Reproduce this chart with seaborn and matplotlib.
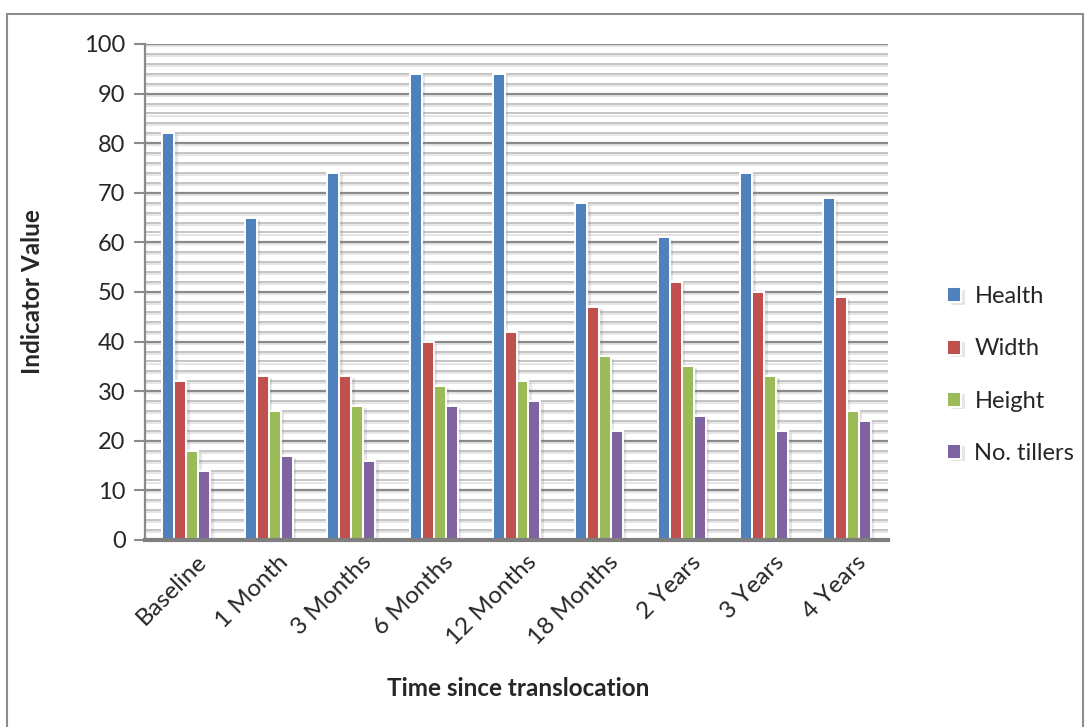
import matplotlib
matplotlib.use("Agg")
import matplotlib.pyplot as plt
import matplotlib.patheffects as pe
from matplotlib.patches import Rectangle
from matplotlib.ticker import MultipleLocator
from matplotlib.transforms import ScaledTranslation
import numpy as np
import pandas as pd
import seaborn as sns

# Survey timepoints and indicator values
timepoints = ["Baseline", "1 Month", "3 Months", "6 Months", "12 Months",
              "18 Months", "2 Years", "3 Years", "4 Years"]
health = [82, 65, 74, 94, 94, 68, 61, 74, 69]
width = [32, 33, 33, 40, 42, 47, 52, 50, 49]
height = [18, 26, 27, 31, 32, 37, 35, 33, 26]
tillers = [14, 17, 16, 27, 28, 22, 25, 22, 24]
series_names = ["Health", "Width", "Height", "No. tillers"]
series_colors = ["#4F81BD", "#C0504D", "#9BBB59", "#8064A2"]

frames = []
for name, vals in zip(series_names, [health, width, height, tillers]):
    frames.append(pd.DataFrame({"Time": timepoints, "Indicator": name, "Value": vals}))
df = pd.concat(frames, ignore_index=True)

sns.set_theme(style="white")
plt.rcParams["font.family"] = ["Lato", "DejaVu Sans"]

fig = plt.figure(figsize=(10.85, 7.27), dpi=100)
ax = fig.add_axes([145 / 1085, 1 - 540 / 727, (888 - 145) / 1085, (540 - 44) / 727])

sns.barplot(data=df, x="Time", y="Value", hue="Indicator", order=timepoints,
            hue_order=series_names, palette=series_colors, width=0.58,
            edgecolor="white", linewidth=1.4, saturation=1, errorbar=None,
            ax=ax, zorder=3)

for bar in ax.patches:
    bar.set_path_effects([pe.SimplePatchShadow(offset=(2.5, -1.5), alpha=0.18,
                                               shadow_rgbFace="#777777"),
                          pe.Normal()])

ax.set_ylim(0, 100)
ax.set_xlim(-0.5, len(timepoints) - 0.5)
ax.yaxis.set_major_locator(MultipleLocator(10))
ax.yaxis.set_minor_locator(MultipleLocator(2))

shadow = [pe.SimpleLineShadow(offset=(0, -1.5), alpha=0.25, shadow_color="#999999"), pe.Normal()]
for y in np.arange(2, 100.1, 2):
    major = abs(y % 10) < 1e-9
    ax.axhline(y, color="#8a8a8a" if major else "#c4c4c4",
               lw=1.6 if major else 1.4, zorder=1, path_effects=shadow)

for s in ["top", "right"]:
    ax.spines[s].set_visible(False)
ax.spines["left"].set_color("#8a8a8a")
ax.spines["left"].set_linewidth(1.6)
ax.spines["bottom"].set_color("#7f7f7f")
ax.spines["bottom"].set_linewidth(3)
ax.spines["bottom"].set_zorder(4)

ax.tick_params(axis="y", which="major", direction="out", length=8, width=1.5,
               color="#8a8a8a", labelsize=17, pad=6, left=True)
ax.tick_params(axis="y", which="minor", direction="in", length=5, width=1.2,
               color="#9a9a9a", left=True)
ax.tick_params(axis="x", length=0, labelsize=17.5, pad=8)
ax.set_xticks(range(len(timepoints)))
ax.set_xticklabels(timepoints, rotation=45, ha="right", rotation_mode="anchor")
for lbl in ax.get_xticklabels():
    lbl.set_transform(lbl.get_transform() + ScaledTranslation(9 / 100, 0, fig.dpi_scale_trans))

ax.set_ylabel("")
ax.set_xlabel("")
fig.text(33 / 1085, 1 - 292 / 727, "Indicator Value", fontsize=17.5,
         fontweight="bold", rotation=90, ha="center", va="center")
fig.text(518 / 1085, 1 - 689 / 727, "Time since translocation", fontsize=17.5,
         fontweight="bold", ha="center", va="center")

handles, labels = ax.get_legend_handles_labels()
ax.legend(handles, labels, loc="center left", bbox_to_anchor=(926 / 1085, 1 - 375 / 727),
          bbox_transform=fig.transFigure, frameon=False, fontsize=17,
          handlelength=0.6, handleheight=0.6, handletextpad=0.55, labelspacing=1.32)

fig.patches.append(Rectangle((7 / 1085, -0.02), 1076 / 1085, 1 - 14 / 727 + 0.02,
                             transform=fig.transFigure, fill=False,
                             edgecolor="#8c8c8c", linewidth=1.5))

fig.savefig("out.png", dpi=100)
